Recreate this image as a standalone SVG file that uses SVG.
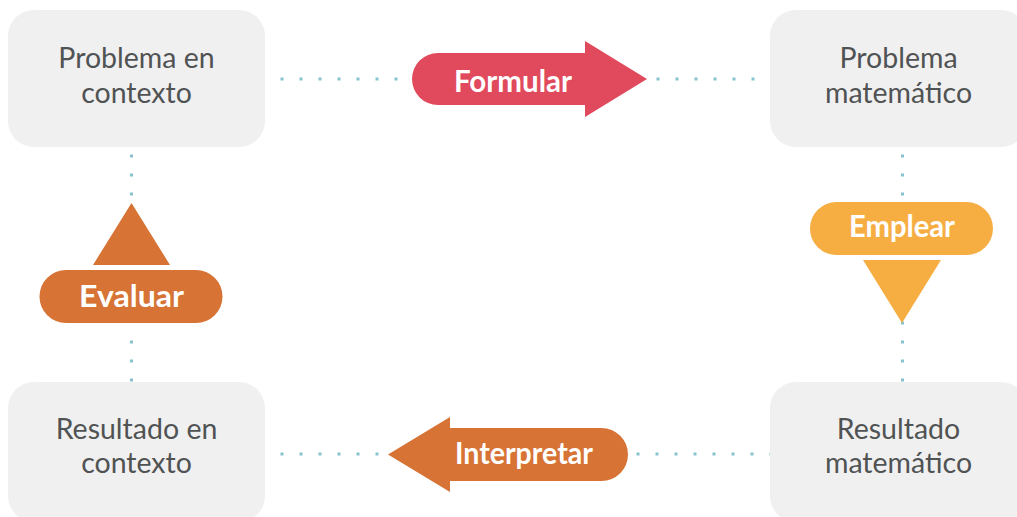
<svg xmlns="http://www.w3.org/2000/svg" width="1017" height="517" viewBox="0 0 1017 517">
  <style>
    .box { fill: #f0f0f0; }
    .box-text { font-family: Lato, "Open Sans", "Liberation Sans", sans-serif; font-size: 28.5px; fill: #505354; text-anchor: middle; }
    .label { font-family: Lato, "Open Sans", "Liberation Sans", sans-serif; font-size: 30px; font-weight: 700; fill: #ffffff; text-anchor: middle; }
    .dots { stroke: #86c3cf; stroke-width: 3; stroke-dasharray: 3 16; fill: none; }
    .red { fill: #e04a5c; }
    .orange { fill: #d67335; }
    .yellow { fill: #f6ae43; }
  </style>

  <!-- dotted connectors between the four stages -->
  <g id="connectors">
    <line class="dots" x1="280.5" y1="79" x2="398" y2="79"/>
    <line class="dots" x1="656.5" y1="79" x2="775" y2="79"/>
    <line class="dots" x1="280.5" y1="454" x2="380" y2="454"/>
    <line class="dots" x1="636.5" y1="454" x2="775" y2="454"/>
    <line class="dots" x1="131.5" y1="154.5" x2="131.5" y2="197"/>
    <line class="dots" x1="131.5" y1="340.5" x2="131.5" y2="385"/>
    <line class="dots" x1="902.5" y1="154.5" x2="902.5" y2="197"/>
    <line class="dots" x1="902.5" y1="321.5" x2="902.5" y2="385"/>
  </g>

  <g id="problema-contexto">
    <rect class="box" x="8" y="10" width="257" height="137" rx="26"/>
    <text class="box-text" x="136.5" y="68">Problema en</text>
    <text class="box-text" x="136.5" y="103">contexto</text>
  </g>

  <g id="problema-matematico">
    <rect class="box" x="770" y="10" width="257" height="137" rx="26"/>
    <text class="box-text" x="898.5" y="68">Problema</text>
    <text class="box-text" x="898.5" y="103">matemático</text>
  </g>

  <g id="resultado-contexto">
    <rect class="box" x="8" y="382" width="257" height="140" rx="26"/>
    <text class="box-text" x="136.5" y="439">Resultado en</text>
    <text class="box-text" x="136.5" y="473">contexto</text>
  </g>

  <g id="resultado-matematico">
    <rect class="box" x="770" y="382" width="257" height="140" rx="26"/>
    <text class="box-text" x="898.5" y="439">Resultado</text>
    <text class="box-text" x="898.5" y="473">matemático</text>
  </g>

  <g id="formular">
    <path class="red" d="M438,53 H585 V41 L647,79 L585,117 V105 H438 A26,26 0 0 1 438,53 Z"/>
    <text class="label" x="513" y="92" textLength="118" lengthAdjust="spacingAndGlyphs">Formular</text>
  </g>

  <g id="emplear">
    <rect class="yellow" x="810" y="202" width="183" height="53" rx="26.5"/>
    <polygon class="yellow" points="863,260 941,260 902,323"/>
    <text class="label" x="902" y="237" textLength="106" lengthAdjust="spacingAndGlyphs">Emplear</text>
  </g>

  <g id="interpretar">
    <path class="orange" d="M601.5,428 H450 V417 L388,454.5 L450,492 V481 H601.5 A26.5,26.5 0 0 0 601.5,428 Z"/>
    <text class="label" x="524" y="464" textLength="138" lengthAdjust="spacingAndGlyphs">Interpretar</text>
  </g>

  <g id="evaluar">
    <polygon class="orange" points="131.5,203 93,265 170,265"/>
    <rect class="orange" x="39.5" y="270" width="183" height="53" rx="26.5"/>
    <text class="label" x="131.5" y="307" textLength="105" lengthAdjust="spacingAndGlyphs">Evaluar</text>
  </g>
</svg>
